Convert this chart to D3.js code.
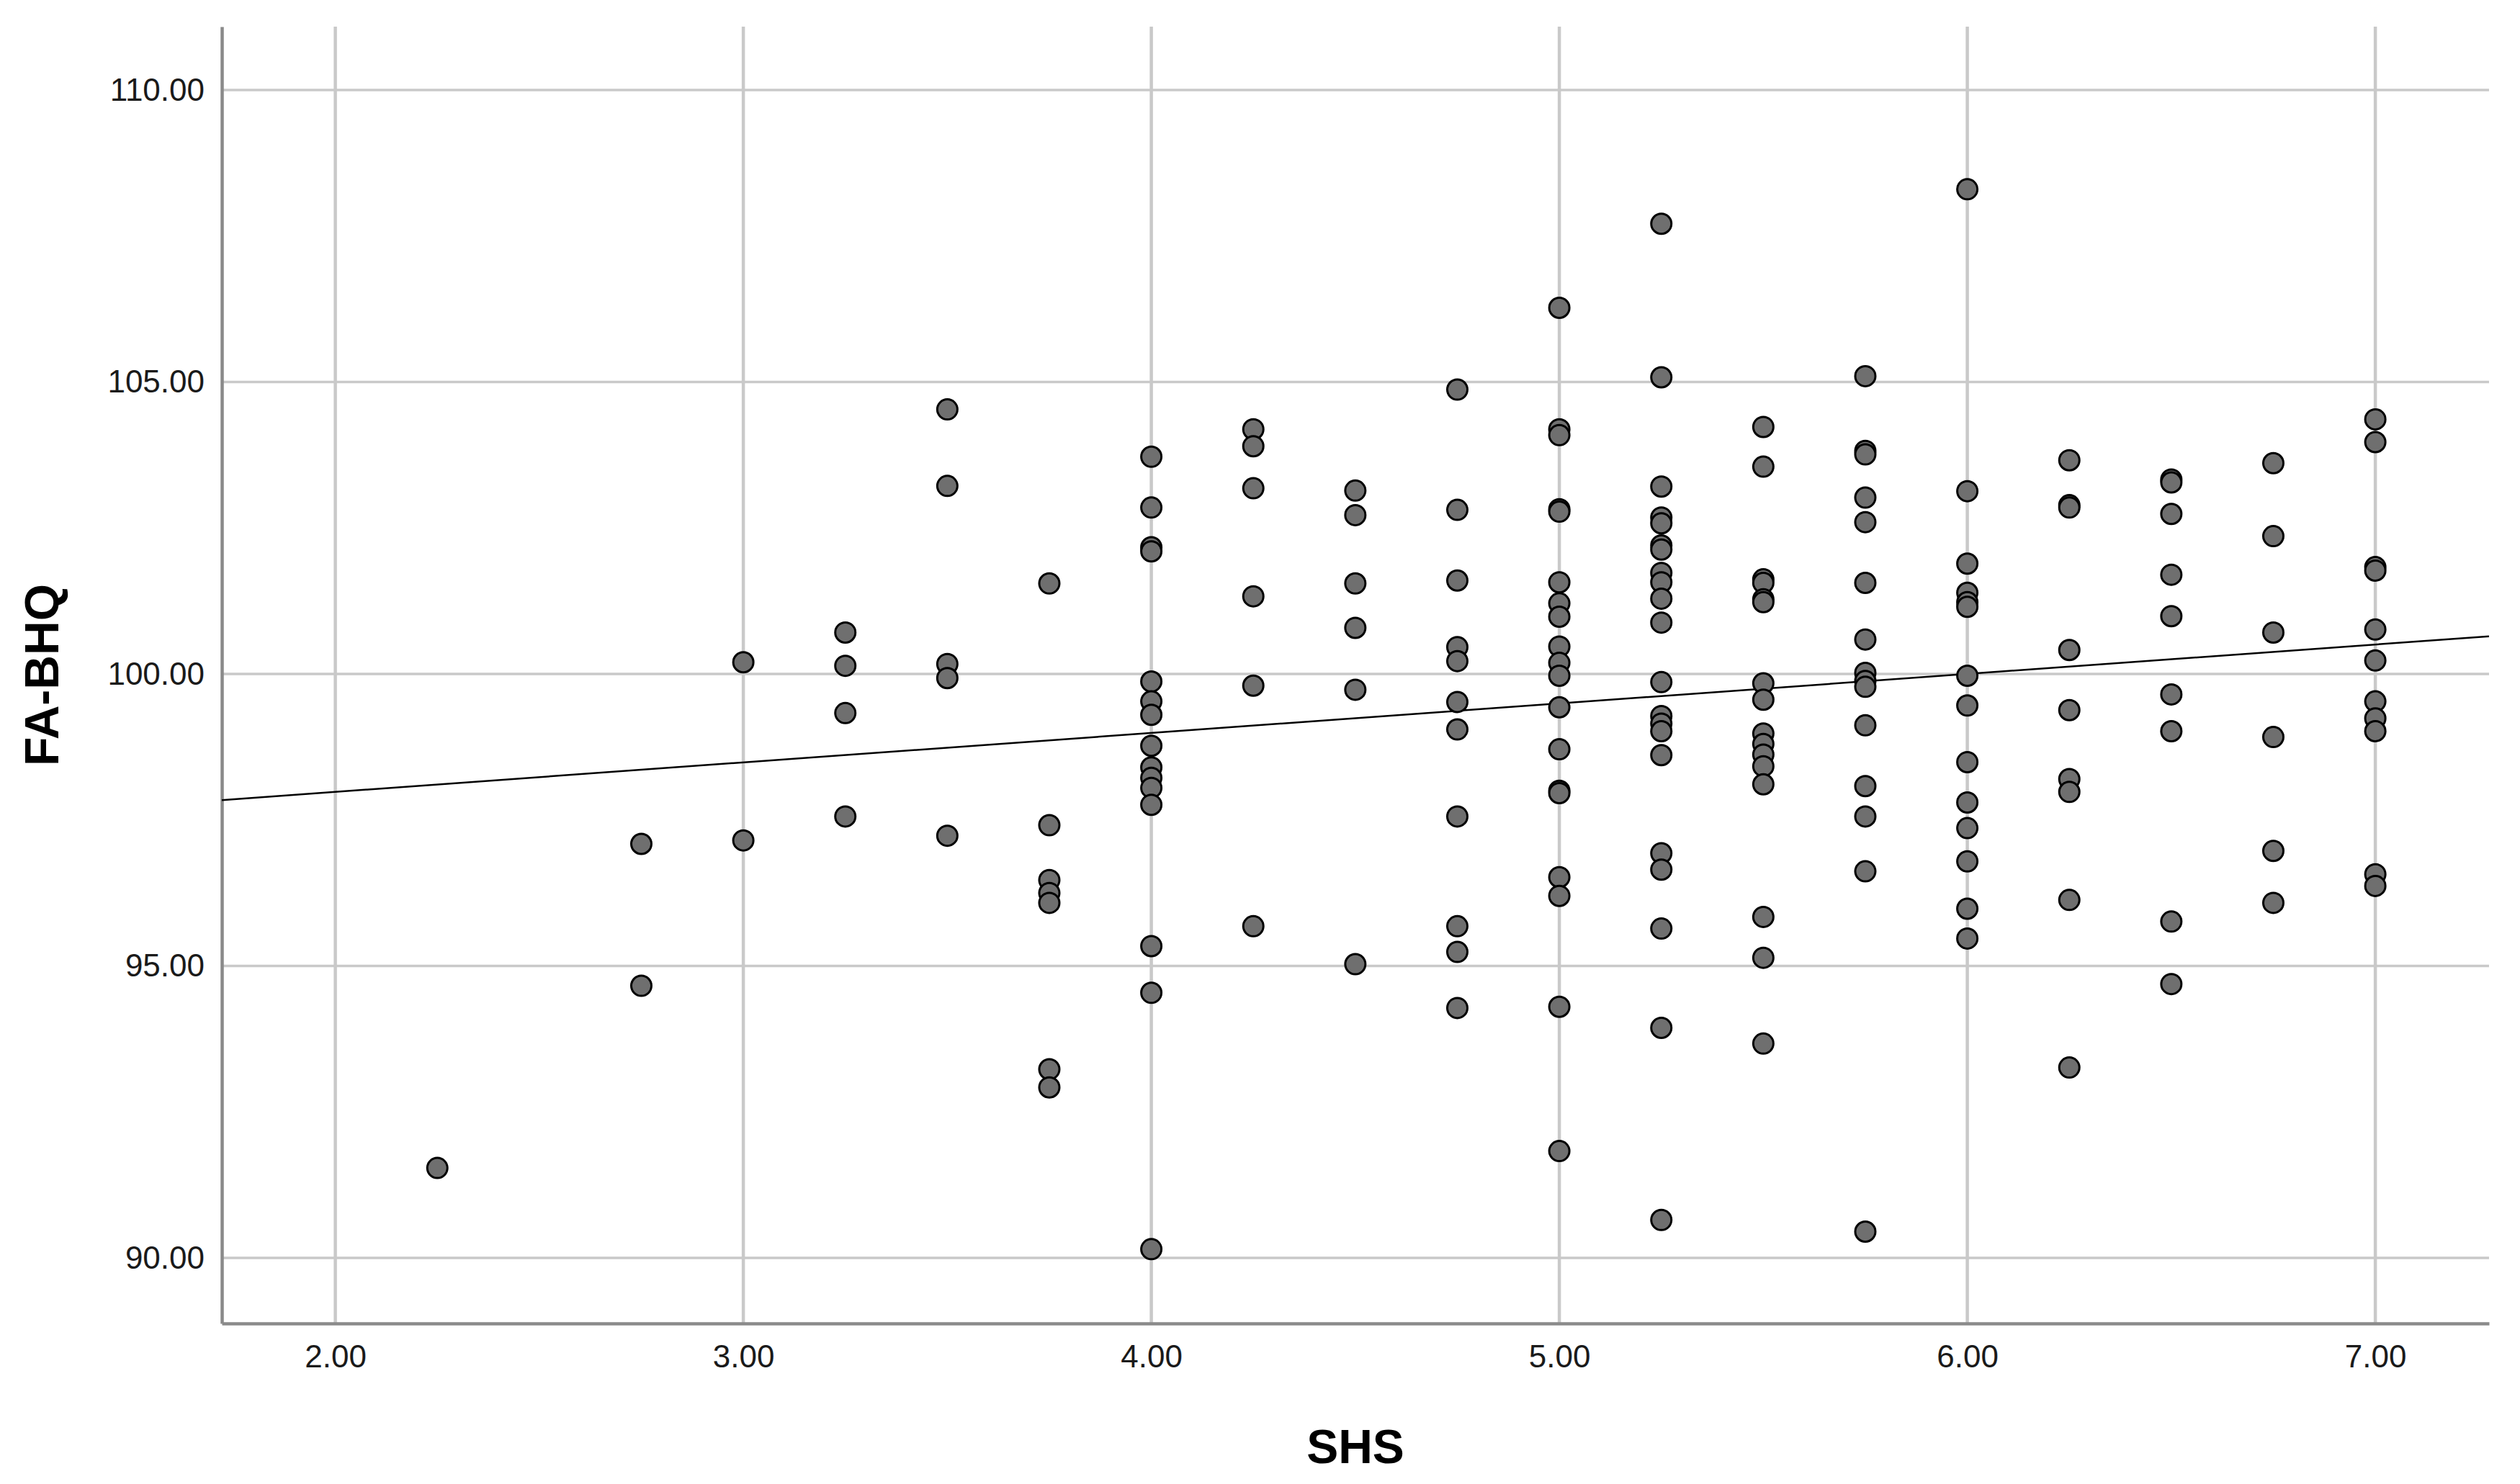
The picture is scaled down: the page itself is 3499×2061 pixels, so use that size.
<!DOCTYPE html>
<html>
<head>
<meta charset="utf-8">
<script src="https://cdn.jsdelivr.net/npm/d3@7"></script>
<style>
  body { margin: 0; background: #fff; }
  svg text { font-family: "Liberation Sans", Arial, sans-serif; }
</style>
</head>
<body>
<div id="chart"></div>
<script>
// SHS levels (x) and the FA-BHQ scores read at each level (y)
var shsLevels = [2.25, 2.75, 3.00, 3.25, 3.50, 3.75, 4.00, 4.25, 4.50, 4.75,
                 5.00, 5.25, 5.50, 5.75, 6.00, 6.25, 6.50, 6.75, 7.00]

var fabhqAt = [
  [91.54],
  [97.09, 94.66],
  [100.20, 97.15],
  [100.71, 100.14, 99.33, 97.56],
  [104.53, 103.22, 100.17, 99.93, 97.23],
  [101.55, 97.41, 96.47, 96.25, 96.08, 93.23, 92.92],
  [103.72, 102.85, 102.17, 102.10, 99.87, 99.53, 99.30, 98.77, 98.40, 98.22, 98.05, 97.76, 95.34, 94.54, 90.15],
  [104.19, 103.90, 103.18, 101.33, 99.80, 95.68],
  [103.14, 102.72, 101.55, 100.79, 99.73, 95.03],
  [104.87, 102.81, 101.60, 100.46, 100.22, 99.52, 99.05, 97.56, 95.68, 95.24, 94.28],
  [106.27, 104.19, 104.09, 102.82, 102.78, 101.57, 101.21, 100.98, 100.47, 100.19, 99.97, 99.43, 98.71, 98.00, 97.96, 96.52, 96.20, 94.30, 91.83],
  [107.71, 105.08, 103.21, 102.68, 102.58, 102.20, 102.13, 101.73, 101.57, 101.29, 100.88, 99.86, 99.28, 99.15, 99.02, 98.61, 96.93, 96.65, 95.64, 93.94, 90.65],
  [104.23, 103.55, 101.62, 101.56, 101.28, 101.23, 99.84, 99.56, 98.98, 98.80, 98.62, 98.42, 98.11, 95.84, 95.14, 93.67],
  [105.10, 103.82, 103.76, 103.02, 102.60, 101.56, 100.59, 100.02, 99.88, 99.78, 99.12, 98.08, 97.56, 96.62, 90.45],
  [108.30, 103.13, 101.89, 101.39, 101.23, 101.15, 99.97, 99.46, 98.49, 97.80, 97.36, 96.79, 95.98, 95.47],
  [103.66, 102.89, 102.85, 100.41, 99.38, 98.20, 97.98, 96.13, 93.26],
  [103.33, 103.28, 102.74, 101.70, 100.99, 99.65, 99.02, 95.76, 94.69],
  [103.61, 102.36, 100.71, 98.92, 96.97, 96.08],
  [104.36, 103.97, 101.83, 101.77, 100.76, 100.23, 99.53, 99.24, 99.02, 96.57, 96.37]
]

var xTicks = [2, 3, 4, 5, 6, 7]
var yTicks = [90, 95, 100, 105, 110]
var xTitle = "SHS"
var yTitle = "FA-BHQ"

var W = 3499, H = 2061
var margin = { top: 37, right: 43, bottom: 223, left: 308 }
var width = W - margin.left - margin.right
var height = H - margin.top - margin.bottom

var points = []
shsLevels.forEach(function(lv, i) {
  fabhqAt[i].forEach(function(v) { points.push({ x: lv, y: v }) })
})

var x = d3.scaleLinear()
  .domain([1.7218, 7.2787])
  .range([0, width])

var y = d3.scaleLinear()
  .domain([88.878, 111.085])
  .range([height, 0])

var svg = d3.select("#chart")
  .append("svg")
    .attr("width", W)
    .attr("height", H)
  .append("g")
    .attr("transform", "translate(" + margin.left + "," + margin.top + ")")

// grid
svg.append("g")
  .selectAll("line")
  .data(yTicks)
  .enter()
  .append("line")
    .attr("x1", 0)
    .attr("x2", width)
    .attr("y1", function(d) { return y(d) })
    .attr("y2", function(d) { return y(d) })
    .attr("stroke", "#c9c9c9")
    .attr("stroke-width", 3.5)

svg.append("g")
  .selectAll("line")
  .data(xTicks)
  .enter()
  .append("line")
    .attr("x1", function(d) { return x(d) })
    .attr("x2", function(d) { return x(d) })
    .attr("y1", 0)
    .attr("y2", height)
    .attr("stroke", "#c9c9c9")
    .attr("stroke-width", 4.5)

// axes
var xAxis = svg.append("g")
  .attr("transform", "translate(0," + height + ")")
  .call(d3.axisBottom(x).tickValues(xTicks).tickFormat(d3.format(".2f")).tickSize(0).tickPadding(30))
var yAxis = svg.append("g")
  .call(d3.axisLeft(y).tickValues(yTicks).tickFormat(d3.format(".2f")).tickSize(0).tickPadding(24))

;[xAxis, yAxis].forEach(function(a) {
  a.select(".domain").attr("stroke", "#8a8a8a").attr("stroke-width", 4.5)
  a.selectAll("text")
    .style("font-size", "44px")
    .style("font-family", "'Liberation Sans', Arial, sans-serif")
    .attr("fill", "#1a1a1a")
})

// least squares fit line
var mx = d3.mean(points, function(d) { return d.x })
var my = d3.mean(points, function(d) { return d.y })
var sxy = d3.sum(points, function(d) { return (d.x - mx) * (d.y - my) })
var sxx = d3.sum(points, function(d) { return (d.x - mx) * (d.x - mx) })
var slope = sxy / sxx
var intercept = my - slope * mx
var xd = x.domain()

svg.append("line")
  .attr("x1", x(xd[0]))
  .attr("x2", x(xd[1]))
  .attr("y1", y(intercept + slope * xd[0]))
  .attr("y2", y(intercept + slope * xd[1]))
  .attr("stroke", "#000")
  .attr("stroke-width", 2.5)

// points
svg.append("g")
  .selectAll("circle")
  .data(points)
  .enter()
  .append("circle")
    .attr("cx", function(d) { return x(d.x) })
    .attr("cy", function(d) { return y(d.y) })
    .attr("r", 14)
    .attr("fill", "#6f6f6f")
    .attr("stroke", "#000")
    .attr("stroke-width", 3)

// titles
svg.append("text")
  .attr("x", width / 2)
  .attr("y", 2032 - margin.top)
  .attr("text-anchor", "middle")
  .style("font-size", "66px")
  .style("font-weight", "bold")
  .text(xTitle)

svg.append("text")
  .attr("transform", "translate(" + (57 - margin.left + 24) + "," + (height / 2) + ") rotate(-90)")
  .attr("text-anchor", "middle")
  .style("font-size", "66px")
  .style("font-weight", "bold")
  .text(yTitle)
</script>
</body>
</html>
